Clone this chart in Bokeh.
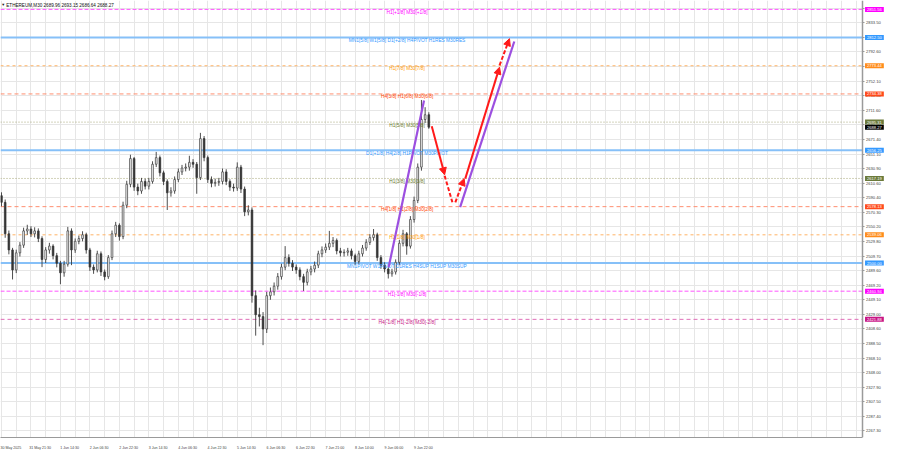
from bokeh.plotting import figure
from bokeh.models import (Range1d, FixedTicker, PrintfTickFormatter, Label,
                          Arrow, NormalHead, ColumnDataSource)
from bokeh.core.properties import value
from bokeh.embed import file_html
from bokeh.resources import INLINE

TITLE = "ETHEREUM,M30  2689.96 2693.15 2686.64 2688.27"

# ---- candles (2-hour aggregation) ----
FIRST_OPEN = 2593.3
CLOSE = [
    2584.1, 2540.5, 2518.1, 2490.4, 2514.1, 2524.7, 2544.5, 2547.1, 2540.5, 2544.5,
    2533.9, 2504.9, 2518.1, 2523.4, 2510.2, 2499.6, 2486.4, 2498.3, 2544.5, 2518.1,
    2530.0, 2533.9, 2539.2, 2518.1, 2494.3, 2490.4, 2512.8, 2487.7, 2481.1, 2507.5,
    2540.5, 2552.4, 2536.6, 2580.1, 2609.1, 2644.8, 2605.2, 2599.9, 2613.1, 2606.5,
    2613.1, 2636.9, 2646.1, 2625.0, 2613.1, 2597.3, 2599.9, 2615.7, 2626.3, 2631.6,
    2632.9, 2639.5, 2636.9, 2618.4, 2672.5, 2646.1, 2615.7, 2610.5, 2611.8, 2613.1,
    2626.3, 2613.1, 2605.2, 2603.9, 2632.9, 2602.5, 2570.9, 2573.5, 2454.7, 2428.3,
    2425.7, 2408.5, 2454.7, 2460.0, 2467.9, 2481.1, 2494.3, 2507.5, 2499.6, 2494.3,
    2490.4, 2481.1, 2473.2, 2487.7, 2491.7, 2497.0, 2512.8, 2518.1, 2522.0, 2527.3,
    2531.3, 2516.8, 2514.1, 2514.9, 2516.8, 2510.2, 2502.2, 2512.8, 2520.7, 2528.6,
    2535.2, 2539.2, 2507.5, 2497.0, 2491.7, 2485.1, 2487.7, 2500.9, 2527.3, 2540.5,
    2523.4, 2560.3, 2586.7, 2632.9, 2698.9, 2705.5, 2688.27,
]
HIGH = [
    2598.0, 2588.0, 2545.0, 2521.0, 2518.5, 2529.0, 2549.0, 2553.0, 2551.0, 2549.5,
    2548.0, 2537.0, 2522.0, 2528.0, 2526.0, 2514.0, 2503.0, 2503.0, 2550.0, 2548.0,
    2534.0, 2538.0, 2544.0, 2542.0, 2521.0, 2498.0, 2517.0, 2516.0, 2491.0, 2511.0,
    2545.0, 2557.0, 2555.0, 2585.0, 2614.0, 2650.1, 2647.0, 2610.0, 2618.0, 2617.0,
    2618.0, 2641.0, 2654.0, 2649.0, 2628.0, 2616.0, 2605.0, 2620.0, 2631.0, 2636.0,
    2638.0, 2648.7, 2644.0, 2640.0, 2680.4, 2676.0, 2649.0, 2620.0, 2617.0, 2618.0,
    2631.0, 2630.0, 2616.0, 2610.0, 2639.5, 2636.0, 2606.0, 2580.0, 2577.0, 2462.0,
    2438.0, 2432.0, 2460.0, 2466.0, 2473.0, 2486.0, 2499.0, 2523.4, 2512.0, 2504.0,
    2498.0, 2494.0, 2485.0, 2492.0, 2496.0, 2502.0, 2517.0, 2523.0, 2527.0, 2544.5,
    2536.0, 2534.0, 2521.0, 2519.0, 2521.0, 2520.0, 2513.0, 2517.0, 2525.0, 2533.0,
    2540.0, 2547.1, 2542.0, 2511.0, 2501.0, 2495.0, 2492.0, 2505.0, 2532.0, 2546.0,
    2543.0, 2565.0, 2592.0, 2638.0, 2726.0, 2716.0, 2709.0,
]
LOW = [
    2578.5, 2535.0, 2512.0, 2477.2, 2486.0, 2509.0, 2521.0, 2539.0, 2536.0, 2535.5,
    2529.0, 2494.3, 2500.0, 2513.0, 2505.0, 2494.0, 2470.6, 2481.0, 2495.0, 2497.0,
    2514.0, 2526.0, 2530.0, 2513.0, 2489.0, 2485.0, 2487.0, 2482.0, 2476.0, 2478.0,
    2504.0, 2536.0, 2531.0, 2533.0, 2576.0, 2605.0, 2600.0, 2594.0, 2596.0, 2602.0,
    2602.0, 2610.0, 2633.0, 2620.0, 2608.0, 2573.5, 2592.0, 2596.0, 2612.0, 2622.0,
    2627.0, 2628.0, 2632.0, 2596.0, 2615.0, 2641.0, 2611.0, 2605.0, 2606.0, 2607.0,
    2609.0, 2608.0, 2600.0, 2599.0, 2600.0, 2597.0, 2565.0, 2566.0, 2445.0, 2399.3,
    2412.0, 2386.1, 2403.0, 2449.0, 2455.0, 2463.0, 2477.0, 2490.0, 2495.0, 2489.0,
    2485.0, 2476.0, 2461.3, 2469.0, 2483.0, 2487.0, 2493.0, 2508.0, 2514.0, 2518.0,
    2522.0, 2512.0, 2509.0, 2509.0, 2510.0, 2505.0, 2497.0, 2499.0, 2509.0, 2517.0,
    2525.0, 2531.0, 2503.0, 2492.0, 2487.0, 2478.5, 2481.0, 2484.0, 2497.0, 2523.0,
    2511.5, 2520.0, 2556.0, 2583.0, 2628.0, 2694.0, 2686.0,
]

TIME_LABELS = ["30 May 2025", "31 May 21:30", "1 Jun 14:30", "2 Jun 06:30", "2 Jun 22:30",
               "3 Jun 14:30", "4 Jun 06:30", "4 Jun 22:30", "5 Jun 14:30", "6 Jun 06:30",
               "6 Jun 22:30", "7 Jun 21:00", "8 Jun 14:00", "9 Jun 06:00", "9 Jun 22:00"]

PRICE_TICKS = [2853.5, 2833.5, 2813.0, 2792.6, 2772.3, 2752.1, 2731.8, 2711.6, 2691.5,
               2671.4, 2651.1, 2630.9, 2610.6, 2590.4, 2570.3, 2550.2, 2529.8, 2509.7,
               2489.6, 2469.2, 2449.1, 2429.0, 2408.6, 2388.5, 2368.1, 2348.0, 2327.9,
               2307.5, 2287.4, 2267.3]

LEVELS = [2851.56, 2812.50, 2773.44, 2734.38, 2695.31, 2656.25, 2617.19, 2578.13,
          2539.06, 2500.00, 2460.94, 2421.88]
LEVEL_TEXT = ["H1[+1/8] M30[+1/8]",
              "MN1[5/8] W1[5/8] D1[+2/8] H4PIVOT H1RES M30RES",
              "H1[7/8] M30[7/8]",
              "H4[3/8] H1[6/8] M30[6/8]",
              "H1[5/8] M30[5/8]",
              "D1[+1/8] H4[2/8] H1PIVOT M30PIVOT",
              "H1[3/8] M30[3/8]",
              "H4[1/8] H1[2/8] M30[2/8]",
              "H1[1/8] M30[1/8]",
              "MN1PIVOT W1PIVOT D1RES H4SUP H1SUP M30SUP",
              "H1[-1/8] M30[-1/8]",
              "H4[-1/8] H1[-2/8] M30[-2/8]"]
LEVEL_KIND = ["magenta", "blue", "orange", "orangered", "olive", "blue", "olive",
              "orangered", "orange", "blue", "magenta", "violet"]
LAST_PRICE = 2688.27

# projection drawn on the chart (bar index, price)
PURPLE_X0 = [105.1, 124.5]
PURPLE_Y0 = [2494.3, 2577.5]
PURPLE_X1 = [114.7, 139.2]
PURPLE_Y1 = [2725.3, 2807.1]

RED_X0 = [116.8, 120.3, 123.2, 125.9, 135.2]
RED_Y0 = [2689.6, 2621.0, 2584.1, 2617.0, 2774.0]
RED_X1 = [120.3, 122.4, 125.6, 135.2, 137.9]
RED_Y1 = [2622.3, 2584.1, 2617.1, 2771.5, 2811.0]
RED_DASHED = [False, True, True, False, True]
RED_HEAD = [True, False, True, True, True]

# ---- styles ----
STYLE = {
    "magenta":   dict(line="#ff55ff", dash="4 2", text="#ff00ff", box="#ff00ff", width=1),
    "blue":      dict(line="#86c0f8", dash="solid", text="#3399ff", box="#3399ff", width=2),
    "orange":    dict(line="#ffb366", dash="3 3", text="#ff9900", box="#ff8c1a", width=1),
    "orangered": dict(line="#ff8f70", dash="4 3", text="#ff4500", box="#ff4a1a", width=1),
    "olive":     dict(line="#a8a878", dash="1 2", text="#6b7a2a", box="#6b7a3a", width=1),
    "violet":    dict(line="#e070b8", dash="4 3", text="#c71585", box="#c71585", width=1),
}
FONT = "Liberation Sans"
AXIS_COLOR = "#9a9a9a"

W, H = 884, 452
X_START, X_AXIS, X_END = -0.27, 233.6, 239.7
Y_START, Y_END = 2258.1, 2863.9
LABEL_SHIFT = 2.5

p = figure(width=W, height=H, output_backend="svg", toolbar_location=None,
           x_range=Range1d(X_START, X_END), y_range=Range1d(Y_START, Y_END),
           y_axis_location="right", min_border_left=0, min_border_top=0,
           min_border_right=0, min_border_bottom=9)
p.outline_line_color = None
p.background_fill_color = "white"
p.border_fill_color = "white"

# x axis (bar index with date labels)
label_pos = [i * 8 + LABEL_SHIFT for i in range(len(TIME_LABELS))]
grid_pos = [i * 4 for i in range(0, 59)]
p.xaxis.ticker = FixedTicker(ticks=label_pos)
p.xaxis.major_label_overrides = {pos: lab for pos, lab in zip(label_pos, TIME_LABELS)}
p.xaxis.major_label_text_font_size = "3.6px"
p.xaxis.major_label_text_font = FONT
p.xaxis.major_label_standoff = 2
p.xaxis.major_tick_line_color = None
p.xaxis.minor_tick_line_color = None
p.xaxis.axis_line_color = AXIS_COLOR
p.xaxis.bounds = (X_START, X_AXIS)
p.xgrid.ticker = FixedTicker(ticks=grid_pos)

# y axis drawn at the right edge of the chart area, labels in the price strip
p.yaxis.fixed_location = X_AXIS
p.yaxis.ticker = FixedTicker(ticks=PRICE_TICKS)
p.yaxis.formatter = PrintfTickFormatter(format="%.2f")
p.yaxis.major_label_text_font_size = "4.1px"
p.yaxis.major_label_text_font = FONT
p.yaxis.major_label_standoff = 2
p.yaxis.major_tick_out = 2
p.yaxis.major_tick_in = 0
p.yaxis.minor_tick_line_color = None
p.yaxis.axis_line_color = AXIS_COLOR
p.yaxis.axis_line_width = 1.5
p.yaxis.major_tick_line_color = AXIS_COLOR

p.xgrid.grid_line_color = "#e6e6e6"
p.ygrid.grid_line_color = "#e6e6e6"

# level lines (chart area only)
for lv, kind in zip(LEVELS, LEVEL_KIND):
    s = STYLE[kind]
    p.segment(x0=[X_START], y0=[lv], x1=[X_AXIS], y1=[lv], line_color=s["line"],
              line_dash=s["dash"], line_width=s["width"])

# keep the price strip clear of grid lines
p.quad(left=[X_AXIS], right=[X_END], bottom=[Y_START], top=[Y_END],
       fill_color="white", line_color=None)

# candles
idx = list(range(len(CLOSE)))
OPEN = [FIRST_OPEN] + CLOSE[:-1]
bull = [c >= o for o, c in zip(OPEN, CLOSE)]
src = ColumnDataSource(dict(
    x=idx, open=OPEN, close=CLOSE, high=HIGH, low=LOW,
    top=[max(o, c) for o, c in zip(OPEN, CLOSE)],
    bottom=[min(o, c) for o, c in zip(OPEN, CLOSE)],
    fill=["#ffffff" if b else "#333333" for b in bull],
))
p.segment(x0="x", y0="low", x1="x", y1="high", source=src, line_color="#3a3a3a", line_width=0.9)
p.vbar(x="x", top="top", bottom="bottom", width=0.46, source=src,
       fill_color="fill", line_color="#3a3a3a", line_width=0.7)

# level texts
LABEL_X = 110.1
p.text(x=[LABEL_X] * len(LEVELS), y=LEVELS, text=LEVEL_TEXT,
       text_color=[STYLE[k]["text"] for k in LEVEL_KIND],
       text_font=value(FONT), text_font_size="4.8px", text_align="center",
       text_baseline="middle", y_offset=3)

# projections
p.segment(x0=PURPLE_X0, y0=PURPLE_Y0, x1=PURPLE_X1, y1=PURPLE_Y1,
          line_color="#9c4fe0", line_width=2.2)
for x0, y0, x1, y1, dashed, head in zip(RED_X0, RED_Y0, RED_X1, RED_Y1, RED_DASHED, RED_HEAD):
    end = NormalHead(size=7, fill_color="#ff1a1a", line_color="#ff1a1a") if head else None
    p.add_layout(Arrow(x_start=x0, y_start=y0, x_end=x1, y_end=y1, end=end,
                       line_color="#ff1a1a", line_width=2,
                       line_dash="4 2" if dashed else "solid"))

# title
p.add_layout(Label(x=-0.1, y=2861.5, text="\u25bc", text_font_size="4px",
                   text_baseline="top", text_color="#222222"))
p.add_layout(Label(x=1.3, y=2861.0, text=TITLE, text_font=FONT, text_font_size="4.6px",
                   text_baseline="top", text_color="#111111"))

# price boxes in the price strip
box_vals = LEVELS + [LAST_PRICE]
box_cols = [STYLE[k]["box"] for k in LEVEL_KIND] + ["#000000"]
for lv, col in zip(box_vals, box_cols):
    p.add_layout(Label(x=X_AXIS, x_offset=3, y=lv, text=f"{lv:.2f}", text_color="white",
                       text_font=FONT, text_font_size="4.1px", text_baseline="middle",
                       text_align="left", background_fill_color=col, padding=(2, 1)))

open("out.html", "w").write(file_html(p, INLINE))
